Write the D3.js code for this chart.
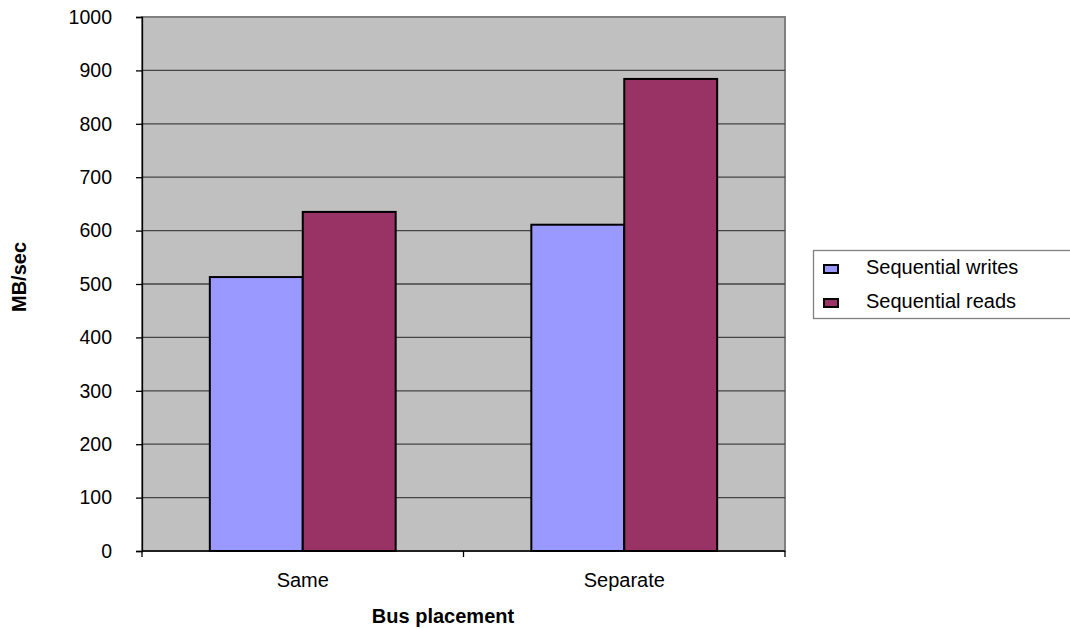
<!DOCTYPE html>
<html>
<head>
<meta charset="utf-8">
<script src="https://cdn.jsdelivr.net/npm/d3@7"></script>
<style>
  body { margin: 0; background: #fff; }
  text { font-family: "Liberation Sans", Arial, sans-serif; }
</style>
</head>
<body>
<svg id="chart" width="1070" height="629"></svg>
<script>
// data
const categories = ["Same", "Separate"];
const seriesNames = ["Sequential writes", "Sequential reads"];
const writes = [513, 611];
const reads = [635, 884];
const yTicks = [0, 100, 200, 300, 400, 500, 600, 700, 800, 900, 1000];
const colors = ["#9999ff", "#993366"];

const svg = d3.select("#chart");
const plotL = 142, plotR = 785, plotT = 17, plotB = 551;
const fs = 20;

let x = d3.scaleBand().domain(categories).range([plotL, plotR]);
let inner = d3.scaleBand().domain(seriesNames).range([0, x.bandwidth()]).paddingOuter(0.73).paddingInner(0);
let y = d3.scaleLinear().domain([0, 1000]).range([plotB, plotT]);

// plot background
svg.append("rect")
  .attr("x", plotL).attr("y", plotT)
  .attr("width", plotR - plotL).attr("height", plotB - plotT)
  .attr("fill", "#c0c0c0")
  .attr("stroke", "#808080").attr("stroke-width", 2);

// gridlines
svg.append("g").selectAll("line")
  .data(yTicks.filter(d => d > 0))
  .enter().append("line")
  .attr("x1", plotL).attr("x2", plotR)
  .attr("y1", d => y(d)).attr("y2", d => y(d))
  .attr("stroke", d => d == 1000 ? "#808080" : "#444")
  .attr("stroke-width", 1.3);

// bars
const rows = categories.map((c, i) => ({ cat: c, vals: [writes[i], reads[i]] }));
let groups = svg.append("g").selectAll("g")
  .data(rows).enter().append("g")
  .attr("transform", d => "translate(" + x(d.cat) + ",0)");

groups.selectAll("rect")
  .data(d => d.vals.map((v, j) => ({ name: seriesNames[j], v: v, j: j })))
  .enter().append("rect")
  .attr("x", d => inner(d.name))
  .attr("y", d => y(d.v))
  .attr("width", inner.bandwidth())
  .attr("height", d => plotB - y(d.v))
  .attr("fill", d => colors[d.j])
  .attr("stroke", "#000").attr("stroke-width", 2);

// y axis
let yAxis = svg.append("g")
  .attr("transform", "translate(" + plotL + ",0)")
  .call(d3.axisLeft(y).tickValues(yTicks).tickSize(6).tickPadding(24).tickFormat(d3.format("d")));
yAxis.select(".domain").attr("stroke", "#000").attr("stroke-width", 1.3);
yAxis.selectAll(".tick line").attr("stroke", "#000").attr("stroke-width", 1.3);
yAxis.selectAll("text").attr("font-size", 19.5).attr("fill", "#000")
  .style("font-family", "'Liberation Sans', Arial, sans-serif");

// x axis
let xAxis = svg.append("g")
  .attr("transform", "translate(0," + plotB + ")")
  .call(d3.axisBottom(x).tickSize(0).tickPadding(22));
xAxis.select(".domain").remove();
xAxis.append("line").attr("x1", plotL).attr("x2", plotR).attr("stroke", "#000").attr("stroke-width", 1.3);
xAxis.selectAll(".tick text").attr("font-size", fs).attr("fill", "#000")
  .style("font-family", "'Liberation Sans', Arial, sans-serif");
xAxis.selectAll(".sep")
  .data([plotL, x("Separate"), plotR])
  .enter().append("line")
  .attr("x1", d => d).attr("x2", d => d)
  .attr("y1", 0).attr("y2", 6)
  .attr("stroke", "#000").attr("stroke-width", 1.3);

// axis titles
svg.append("text")
  .attr("x", 443).attr("y", 623)
  .attr("text-anchor", "middle")
  .attr("font-size", fs).attr("font-weight", "bold")
  .text("Bus placement");

svg.append("text")
  .attr("transform", "translate(26,277) rotate(-90)")
  .attr("text-anchor", "middle")
  .attr("font-size", fs).attr("font-weight", "bold")
  .text("MB/sec");

// legend
let legend = svg.append("g");
legend.append("rect")
  .attr("x", 813.5).attr("y", 250.5)
  .attr("width", 270).attr("height", 68)
  .attr("fill", "#fff").attr("stroke", "#808080").attr("stroke-width", 1.3);

let items = legend.selectAll(".item")
  .data(seriesNames).enter().append("g")
  .attr("transform", (d, i) => "translate(0," + (274 + i * 34) + ")");
items.append("rect")
  .attr("x", 824).attr("y", -9)
  .attr("width", 14).attr("height", 8)
  .attr("fill", (d, i) => colors[i])
  .attr("stroke", "#000").attr("stroke-width", 2);
items.append("text")
  .attr("x", 866).attr("y", 0)
  .attr("font-size", fs)
  .text(d => d);
</script>
</body>
</html>
